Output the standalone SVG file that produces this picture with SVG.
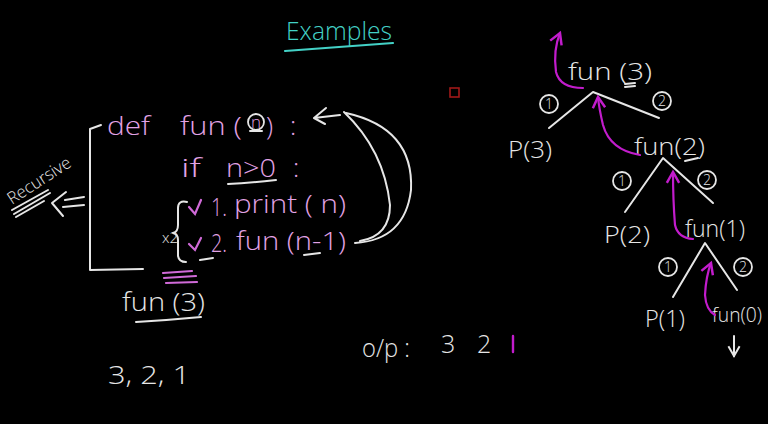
<svg xmlns="http://www.w3.org/2000/svg" width="768" height="424" viewBox="0 0 768 424">
<defs>
<style>
.bg{fill:#000}
.w{fill:#e6e6e6;font-family:"Open Sans","Liberation Sans",sans-serif;font-weight:300}
.p{fill:#e3a3e6;font-family:"Open Sans","Liberation Sans",sans-serif;font-weight:300}
.c{fill:#43d1c6;font-family:"Open Sans","Liberation Sans",sans-serif;font-weight:300}
.ln{fill:none;stroke:#e6e6e6;stroke-width:2;stroke-linecap:round;stroke-linejoin:round}
.mg{fill:none;stroke:#c21ccc;stroke-width:2.2;stroke-linecap:round;stroke-linejoin:round}
.pk{fill:none;stroke:#d06ad8;stroke-width:2.2;stroke-linecap:round}
.circ{fill:none;stroke:#e6e6e6;stroke-width:1.8}
.n{font-size:14px;text-anchor:middle}
</style>
<marker id="ma" viewBox="0 0 10 10" refX="8" refY="5" markerWidth="7" markerHeight="7" orient="auto"><path d="M1,1 L8,5 L1,9" fill="none" stroke="#c21ccc" stroke-width="1.6"/></marker>
<marker id="wa" viewBox="0 0 10 10" refX="8" refY="5" markerWidth="7" markerHeight="7" orient="auto"><path d="M1,1 L8,5 L1,9" fill="none" stroke="#e6e6e6" stroke-width="1.4"/></marker>
</defs>
<rect class="bg" x="0" y="0" width="768" height="424"/>

<g id="title">
<text class="c" x="286" y="40" font-size="25" textLength="106" lengthAdjust="spacingAndGlyphs">Examples</text>
<path d="M285,51 Q340,47 393,43" fill="none" stroke="#43d1c6" stroke-width="2.2" stroke-linecap="round"/>
</g>
<rect id="marker-box" x="450" y="88" width="9" height="9" fill="none" stroke="#a01818" stroke-width="1.6"/>

<g id="code">
<path class="ln" d="M101,125 L90,129 L90,270 L143,269"/>
<text class="p" x="107" y="135" font-size="26" textLength="43" lengthAdjust="spacingAndGlyphs">def</text>
<text class="p" x="180" y="135" font-size="26" textLength="62" lengthAdjust="spacingAndGlyphs">fun (</text>
<text class="p" x="251" y="128" font-size="17">n</text>
<circle class="circ" cx="256" cy="122" r="8"/>
<path class="ln" d="M250,131 L262,131" stroke-width="2.5"/>
<text class="p" x="266" y="135" font-size="26">)</text>
<text class="p" x="290" y="135" font-size="26">:</text>
<text class="p" x="181" y="177" font-size="26" textLength="20" lengthAdjust="spacingAndGlyphs">if</text>
<text class="p" x="226" y="177" font-size="26" textLength="50" lengthAdjust="spacingAndGlyphs">n&gt;0</text>
<text class="p" x="293" y="177" font-size="26">:</text>
<path class="ln" d="M228,184 Q248,183 276,180"/>
<text class="p" x="211" y="216" font-size="26" textLength="16" lengthAdjust="spacingAndGlyphs">1.</text>
<text class="p" x="234" y="213" font-size="26" textLength="112" lengthAdjust="spacingAndGlyphs">print ( n)</text>
<text class="p" x="211" y="252" font-size="26" textLength="16" lengthAdjust="spacingAndGlyphs">2.</text>
<text class="p" x="236" y="250" font-size="26" textLength="110" lengthAdjust="spacingAndGlyphs">fun (n-1)</text>
<path class="pk" d="M189,207 L195,214 L201,200"/>
<path class="pk" d="M189,244 L195,250 L201,238"/>
<path class="ln" d="M187,202 Q178,200 178,208 L178,225 Q178,232 173,233 Q178,234 178,240 L178,256 Q179,262 186,262"/>
<text class="w" x="162" y="243" font-size="15">x2</text>
<path class="ln" d="M200,260 L213,258" stroke-width="2.5"/>
<path class="ln" d="M304,255 L320,253" stroke-width="3"/>
<path class="pk" d="M163,273 L192,271 M164,278 L196,276 M166,283 L197,282" stroke-width="2.5"/>
<text class="w" x="122" y="311" font-size="26" textLength="83" lengthAdjust="spacingAndGlyphs">fun (3)</text>
<path class="ln" d="M136,322 Q170,320 201,317"/>
</g>

<g id="recursive">
<text class="w" x="12" y="205" font-size="17" transform="rotate(-33 12 205)" textLength="72" lengthAdjust="spacingAndGlyphs">Recursive</text>
<path class="ln" d="M12,210 L48,190 M14,214 L50,193 M16,217 L44,201" stroke-width="1.6"/>
<path class="ln" d="M65,200 L84,197 M63,207 L84,205 M66,192 L52,203 L63,216"/>
</g>

<g id="loop-arrow">
<path class="ln" d="M355,243 Q405,240 411,190 Q414,128 346,113"/>
<path class="ln" d="M344,112 Q384,150 390,205 Q390,236 360,241"/>
<path class="ln" d="M326,108 L314,118 L325,124 M314,118 L340,115"/>
</g>

<g id="output">
<text class="w" x="108" y="384" font-size="25" textLength="82" lengthAdjust="spacingAndGlyphs">3, 2, 1</text>
<text class="w" x="362" y="357" font-size="25" textLength="48" lengthAdjust="spacingAndGlyphs">o/p :</text>
<text class="w" x="441" y="353" font-size="25">3</text>
<text class="w" x="477" y="353" font-size="25">2</text>
<path d="M513,336 L513,352" stroke="#c21ccc" stroke-width="2.4" stroke-linecap="round"/>
</g>

<g id="tree">
<text class="w" x="568" y="80" font-size="24" textLength="84" lengthAdjust="spacingAndGlyphs">fun (3)</text>
<path class="ln" d="M625,84 L635,83 M625,87 L635,86" stroke-width="1.6"/>
<path class="ln" d="M549,128 L593,92 L659,118"/>
<circle class="circ" cx="549" cy="104" r="9"/><text class="w n" x="549" y="109">1</text>
<circle class="circ" cx="662" cy="101" r="9"/><text class="w n" x="662" y="106">2</text>
<text class="w" x="508" y="158" font-size="23" textLength="44" lengthAdjust="spacingAndGlyphs">P(3)</text>

<text class="w" x="634" y="155" font-size="23" textLength="71" lengthAdjust="spacingAndGlyphs">fun(2)</text>
<path class="ln" d="M685,161 L698,158" stroke-width="2.6"/>
<path class="ln" d="M625,212 L663,158 L713,203"/>
<circle class="circ" cx="622" cy="181" r="9"/><text class="w n" x="622" y="186">1</text>
<circle class="circ" cx="707" cy="180" r="9"/><text class="w n" x="707" y="185">2</text>
<text class="w" x="604" y="243" font-size="23" textLength="46" lengthAdjust="spacingAndGlyphs">P(2)</text>

<text class="w" x="685" y="237" font-size="23" textLength="60" lengthAdjust="spacingAndGlyphs">fun(1)</text>
<path class="ln" d="M673,297 L705,243 L737,290"/>
<circle class="circ" cx="668" cy="267" r="9"/><text class="w n" x="668" y="272">1</text>
<circle class="circ" cx="743" cy="267" r="9"/><text class="w n" x="743" y="272">2</text>
<text class="w" x="645" y="327" font-size="23" textLength="40" lengthAdjust="spacingAndGlyphs">P(1)</text>
<text class="w" x="712" y="322" font-size="20" textLength="50" lengthAdjust="spacingAndGlyphs">fun(0)</text>
<path class="ln" d="M734,336 L734,356" marker-end="url(#wa)"/>
</g>

<g id="returns">
<path class="mg" d="M583,88 Q560,88 556,72 Q553,50 560,33" marker-end="url(#ma)"/>
<path class="mg" d="M640,155 Q610,150 603,125 Q599,108 598,97" marker-end="url(#ma)"/>
<path class="mg" d="M693,239 Q678,238 675,225 Q673,200 673,172" marker-end="url(#ma)"/>
<path class="mg" d="M715,315 Q706,310 705,295 Q706,276 711,263" marker-end="url(#ma)"/>
</g>
</svg>
